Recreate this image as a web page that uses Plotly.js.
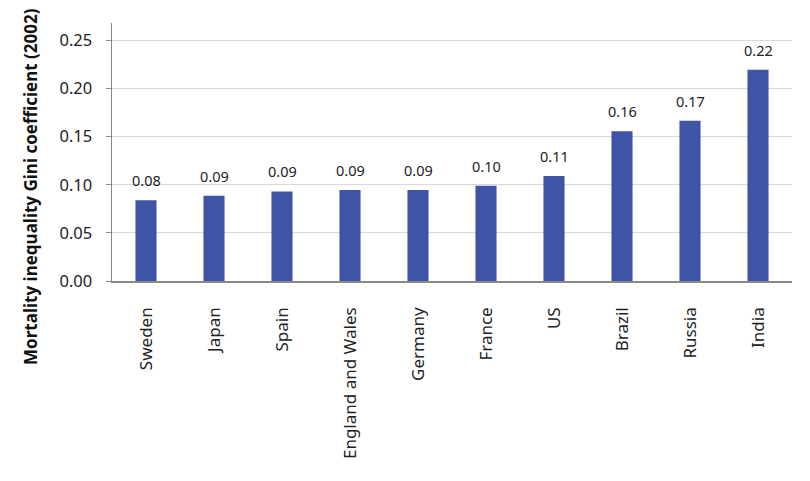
<!DOCTYPE html>
<html>
<head>
<meta charset="utf-8">
<script src="https://cdn.plot.ly/plotly-3.0.1.min.js"></script>
<style>
  html, body { margin: 0; padding: 0; background: #fff; }
  #chart { width: 810px; height: 481px; }
</style>
</head>
<body>
<div id="chart"></div>
<script>
// countries, ordered as in the figure
var countries = ['Sweden', 'Japan', 'Spain', 'England and Wales', 'Germany',
                 'France', 'US', 'Brazil', 'Russia', 'India']
// bar heights
var gini = [0.084, 0.0885, 0.093, 0.0945, 0.0945, 0.099, 0.109, 0.1555, 0.1665, 0.2195]
// labels printed above the bars
var giniLabels = ['0.08', '0.09', '0.09', '0.09', '0.09', '0.10', '0.11', '0.16', '0.17', '0.22']
var yTicks = [0, 0.05, 0.10, 0.15, 0.20, 0.25]
var yTickText = ['0.00', '0.05', '0.10', '0.15', '0.20', '0.25']

var fontFamily = 'Noto Sans, Open Sans, sans-serif'

var data = [{
  type: 'bar',
  x: countries,
  y: gini,
  marker: { color: '#3f54a5' },
  hoverinfo: 'x+y'
}]

var annotations = countries.map(function (c, i) {
  return {
    x: c,
    y: gini[i],
    text: giniLabels[i],
    showarrow: false,
    yanchor: 'bottom',
    yshift: 8,
    font: { family: fontFamily, size: 14.5, color: '#222' }
  }
})

annotations.push({
  xref: 'paper',
  yref: 'paper',
  x: -0.119,
  xanchor: 'center',
  y: 0.365,
  yanchor: 'middle',
  text: '<b>Mortality inequality Gini coefficient (2002)</b>',
  textangle: -90,
  showarrow: false,
  font: { family: fontFamily, size: 17, color: '#111' }
})

var layout = {
  width: 810,
  height: 481,
  margin: { l: 112, r: 18, t: 23, b: 200 },
  paper_bgcolor: '#fff',
  plot_bgcolor: '#fff',
  showlegend: false,
  bargap: 0.69,
  font: { family: fontFamily, color: '#222' },
  xaxis: {
    type: 'category',
    tickangle: -90,
    ticks: '',
    showline: true,
    linecolor: '#888',
    linewidth: 1.5,
    showgrid: false,
    ticklabelstandoff: 18,
    tickfont: { family: fontFamily, size: 17, color: '#222' }
  },
  yaxis: {
    range: [0, 0.268],
    tickvals: yTicks,
    ticktext: yTickText,
    ticks: 'outside',
    ticklen: 5,
    tickcolor: '#888',
    showline: true,
    linecolor: '#888',
    linewidth: 1.5,
    showgrid: true,
    gridcolor: '#d9d9d9',
    gridwidth: 1,
    zeroline: false,
    ticklabelstandoff: 10,
    tickfont: { family: fontFamily, size: 16.5, color: '#222' }
  },
  annotations: annotations
}

Plotly.newPlot('chart', data, layout, { displayModeBar: false, staticPlot: true })
</script>
</body>
</html>
